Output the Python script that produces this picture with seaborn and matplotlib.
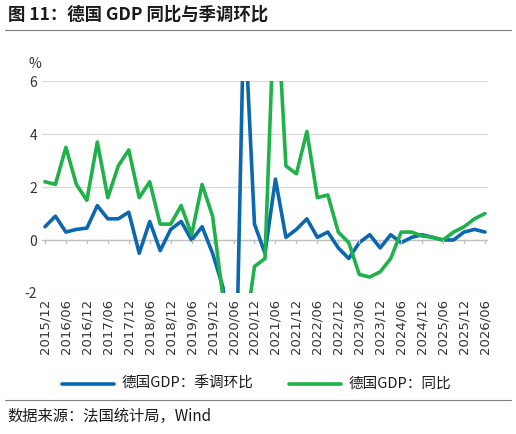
import numpy as np
import pandas as pd
import seaborn as sns
import matplotlib
matplotlib.use("Agg")
import matplotlib.pyplot as plt

quarters = pd.period_range("2015Q4", "2026Q2", freq="Q")
qoq = [0.5, 0.9, 0.3, 0.4, 0.45, 1.3, 0.8, 0.8, 1.05, -0.5, 0.7, -0.4, 0.4, 0.7, 0.0,
       0.5, -0.5, -1.8, -9.7, 8.9, 0.6, -0.5, 2.3, 0.1, 0.4, 0.8, 0.1, 0.3, -0.3, -0.7,
       -0.1, 0.2, -0.3, 0.2, -0.1, 0.1, 0.2, 0.1, 0.0, 0.0, 0.3, 0.4, 0.3]
yoy = [2.2, 2.1, 3.5, 2.1, 1.5, 3.7, 1.6, 2.8, 3.4, 1.6, 2.2, 0.6, 0.6, 1.3, 0.2,
       2.1, 0.9, -2.2, -11.3, -3.8, -1.0, -0.7, 10.0, 2.8, 2.5, 4.1, 1.6, 1.7, 0.3, -0.1,
       -1.3, -1.4, -1.2, -0.7, 0.3, 0.3, 0.15, 0.1, 0.0, 0.3, 0.5, 0.8, 1.0]
tick_labels = [f"{q.year}/{q.quarter * 3:02d}" for q in quarters]

df = pd.DataFrame({"idx": np.arange(len(quarters)),
                   "德国GDP：季调环比": qoq, "德国GDP：同比": yoy})
long = df.melt(id_vars="idx", var_name="series", value_name="value")

sns.set_theme(style="white")
plt.rcParams["font.family"] = ["Noto Sans CJK SC", "DejaVu Sans"]

fig = plt.figure(figsize=(5.16, 4.34), dpi=100)
ax = fig.add_axes([0.081, 0.325, 0.865, 0.488])
sns.lineplot(data=long, x="idx", y="value", hue="series",
             palette=["#0b67b0", "#1fb24a"], linewidth=2.6, ax=ax, legend=False)

ax.set_ylim(-2, 6)
ax.set_xlim(-0.3, len(quarters) - 0.7)
ax.set_yticks([-2, 0, 2, 4, 6])
ax.set_yticklabels(["-2", "0", "2", "4", "6"], fontsize=10, color="#333333")
ax.yaxis.grid(True, color="#d9d9d9", linewidth=0.8)
ax.axhline(0, color="#bfbfbf", linewidth=1, zorder=1)
for s in ax.spines.values():
    s.set_visible(False)
ticks = np.arange(0, len(quarters), 2)
ax.set_xticks(ticks)
ax.set_xticklabels([tick_labels[i] for i in ticks], rotation=90, fontsize=9.5,
                   color="#333333", family="DejaVu Sans")
ax.tick_params(axis="x", length=0, pad=4)
ax.tick_params(axis="y", length=0)
for t in ax.get_xticks():
    ax.plot([t, t], [0, -0.12], color="#bfbfbf", linewidth=1, clip_on=False)
ax.set_xlabel("")
ax.set_ylabel("")
ax.text(-0.03, 1.06, "%", transform=ax.transAxes, fontsize=10, color="#333333")

fig.text(0.015, 0.955, "图 11：德国 GDP 同比与季调环比", fontsize=12.5, fontweight="bold",
         color="#1a1a1a")
fig.add_artist(plt.Line2D([0.01, 0.99], [0.93, 0.93], color="#7f7f7f", linewidth=0.8))

fig.add_artist(plt.Line2D([0.12, 0.22], [0.115, 0.115], color="#0b67b0", linewidth=2.6))
fig.text(0.235, 0.115, "德国GDP：季调环比", fontsize=10.5, va="center", color="#1a1a1a")
fig.add_artist(plt.Line2D([0.56, 0.66], [0.115, 0.115], color="#1fb24a", linewidth=2.6))
fig.text(0.675, 0.115, "德国GDP：同比", fontsize=10.5, va="center", color="#1a1a1a")

fig.add_artist(plt.Line2D([0.01, 0.99], [0.078, 0.078], color="#7f7f7f", linewidth=0.8))
fig.text(0.015, 0.03, "数据来源：法国统计局，Wind", fontsize=11, color="#1a1a1a")

fig.savefig("out.png", dpi=100)
